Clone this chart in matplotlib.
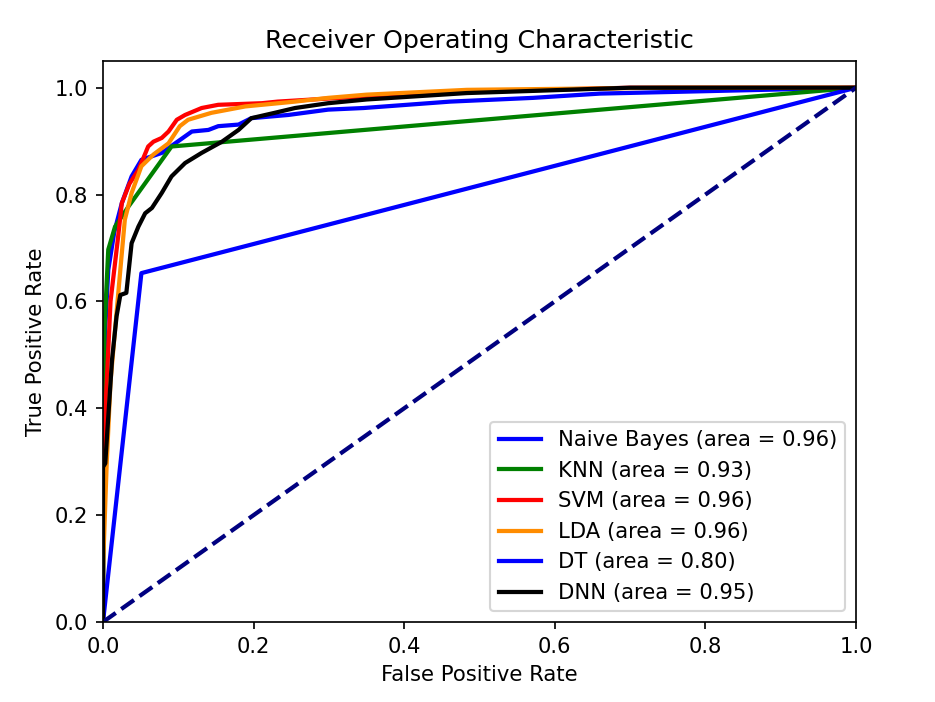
import numpy as np
import matplotlib
matplotlib.use('Agg')
import matplotlib.pyplot as plt

# ROC points (fpr, tpr)
nb_fpr = [0.0, 0.0, 0.003, 0.007, 0.015, 0.025, 0.038, 0.051, 0.078, 0.096, 0.118, 0.140, 0.153, 0.180,
          0.197, 0.246, 0.299, 0.346, 0.461, 0.571, 0.66, 1.0]
nb_tpr = [0.0, 0.35, 0.55, 0.659, 0.73, 0.784, 0.834, 0.865, 0.878, 0.896, 0.918, 0.921, 0.928, 0.931,
          0.943, 0.949, 0.959, 0.962, 0.974, 0.981, 0.989, 1.0]

knn_fpr = [0.0, 0.002, 0.007, 0.016, 0.034, 0.091, 1.0]
knn_tpr = [0.0, 0.55, 0.697, 0.740, 0.778, 0.890, 1.0]

svm_fpr = [0.0, 0.0, 0.005, 0.01, 0.02, 0.025, 0.035, 0.047, 0.060, 0.067, 0.078, 0.087, 0.098, 0.109,
           0.131, 0.153, 0.211, 0.232, 0.35, 0.5, 0.7, 1.0]
svm_tpr = [0.0, 0.30, 0.45, 0.60, 0.72, 0.784, 0.82, 0.846, 0.890, 0.899, 0.906, 0.918, 0.940, 0.949,
           0.962, 0.968, 0.971, 0.974, 0.984, 0.993, 1.0, 1.0]

lda_fpr = [0.0, 0.0, 0.005, 0.010, 0.016, 0.023, 0.029, 0.038, 0.051, 0.067, 0.087, 0.102, 0.113,
           0.144, 0.189, 0.255, 0.299, 0.350, 0.483, 0.749, 1.0]
lda_tpr = [0.0, 0.10, 0.30, 0.45, 0.547, 0.659, 0.753, 0.803, 0.853, 0.875, 0.896, 0.928, 0.940,
           0.953, 0.965, 0.974, 0.981, 0.987, 0.996, 1.0, 1.0]

dt_fpr = [0.0, 0.051, 1.0]
dt_tpr = [0.0, 0.653, 1.0]

dnn_fpr = [0.0, 0.0, 0.003, 0.007, 0.012, 0.018, 0.023, 0.031, 0.038, 0.047, 0.056, 0.065, 0.078,
           0.091, 0.109, 0.131, 0.158, 0.180, 0.197, 0.228, 0.255, 0.299, 0.350, 0.483, 0.70, 1.0]
dnn_tpr = [0.0, 0.29, 0.297, 0.384, 0.491, 0.572, 0.612, 0.616, 0.709, 0.740, 0.765, 0.775, 0.803,
           0.834, 0.859, 0.878, 0.899, 0.921, 0.943, 0.953, 0.962, 0.971, 0.978, 0.990, 1.0, 1.0]

labels = ['Naive Bayes (area = 0.96)', 'KNN (area = 0.93)', 'SVM (area = 0.96)',
          'LDA (area = 0.96)', 'DT (area = 0.80)', 'DNN (area = 0.95)']
colors = ['blue', 'green', 'red', 'darkorange', 'blue', 'black']

curves = [(nb_fpr, nb_tpr), (knn_fpr, knn_tpr), (svm_fpr, svm_tpr),
          (lda_fpr, lda_tpr), (dt_fpr, dt_tpr), (dnn_fpr, dnn_tpr)]

fig = plt.figure(figsize=(935 / 152, 702 / 152), dpi=152)
ax = fig.add_axes([103 / 935, 80 / 702, 753 / 935, 561 / 702])

for (f, t), lab, c in zip(curves, labels, colors):
    ax.plot(f, t, color=c, lw=2, label=lab)
ax.plot([0, 1], [0, 1], color='navy', lw=2, linestyle='--')

ax.set_xlim([0.0, 1.0])
ax.set_ylim([0.0, 1.05])
ax.set_xlabel('False Positive Rate')
ax.set_ylabel('True Positive Rate')
ax.set_title('Receiver Operating Characteristic')
ax.legend(loc='lower right')

fig.savefig('out.png', dpi=152)
